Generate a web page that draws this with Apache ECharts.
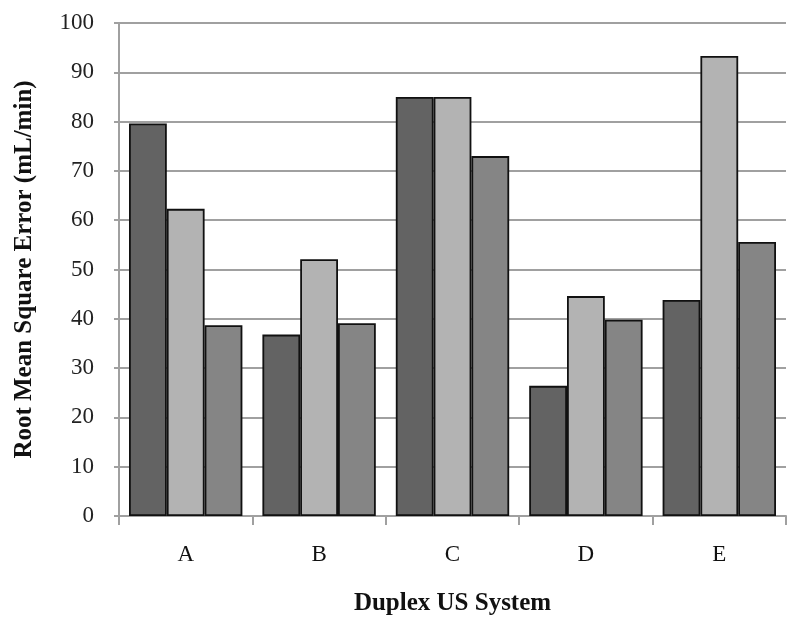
<!DOCTYPE html>
<html>
<head>
<meta charset="utf-8">
<script src="https://cdn.jsdelivr.net/npm/echarts@6/dist/echarts.min.js"></script>
<style>
  html, body { margin: 0; padding: 0; background: #fff; }
  #chart { width: 800px; height: 632px; }
</style>
</head>
<body>
<div id="chart"></div>
<script>
const categories = ['A', 'B', 'C', 'D', 'E'];
const seriesDark = [79.6, 36.8, 85.0, 26.4, 43.8];
const seriesLight = [62.3, 52.1, 85.0, 44.6, 93.3];
const seriesMid = [38.7, 39.1, 73.0, 39.8, 55.6];

const font = '"Liberation Serif", "DejaVu Serif", serif';

const chart = echarts.init(document.getElementById('chart'));

function bar(data, color) {
  return {
    type: 'bar',
    data: data,
    barGap: '0%',
    barCategoryGap: '15%',
    itemStyle: { color: color, borderColor: '#111', borderWidth: 1.8 }
  };
}

chart.setOption({
  animation: false,
  backgroundColor: '#fff',
  grid: { left: 119, right: 14, top: 23, bottom: 116 },
  xAxis: {
    type: 'category',
    data: categories,
    name: 'Duplex US System',
    nameLocation: 'middle',
    nameGap: 75,
    nameTextStyle: { fontFamily: font, fontWeight: 'bold', fontSize: 25, color: '#111' },
    axisLine: { lineStyle: { color: '#a0a0a0', width: 2 } },
    axisTick: { show: true, length: 9, lineStyle: { color: '#a0a0a0', width: 2 } },
    axisLabel: { fontFamily: font, fontSize: 23, color: '#111', margin: 27 }
  },
  yAxis: {
    type: 'value',
    min: 0,
    max: 100,
    interval: 10,
    name: 'Root Mean Square Error (mL/min)',
    nameLocation: 'middle',
    nameGap: 82,
    nameTextStyle: { fontFamily: font, fontWeight: 'bold', fontSize: 25, color: '#111' },
    axisLine: { show: true, lineStyle: { color: '#a0a0a0', width: 2 } },
    axisTick: { show: true, length: 5, lineStyle: { color: '#a0a0a0', width: 2 } },
    splitLine: { lineStyle: { color: '#a0a0a0', width: 2 } },
    axisLabel: { fontFamily: font, fontSize: 23, color: '#222', margin: 25 }
  },
  series: [
    bar(seriesDark, '#636363'),
    bar(seriesLight, '#b3b3b3'),
    bar(seriesMid, '#858585')
  ]
});
</script>
</body>
</html>
